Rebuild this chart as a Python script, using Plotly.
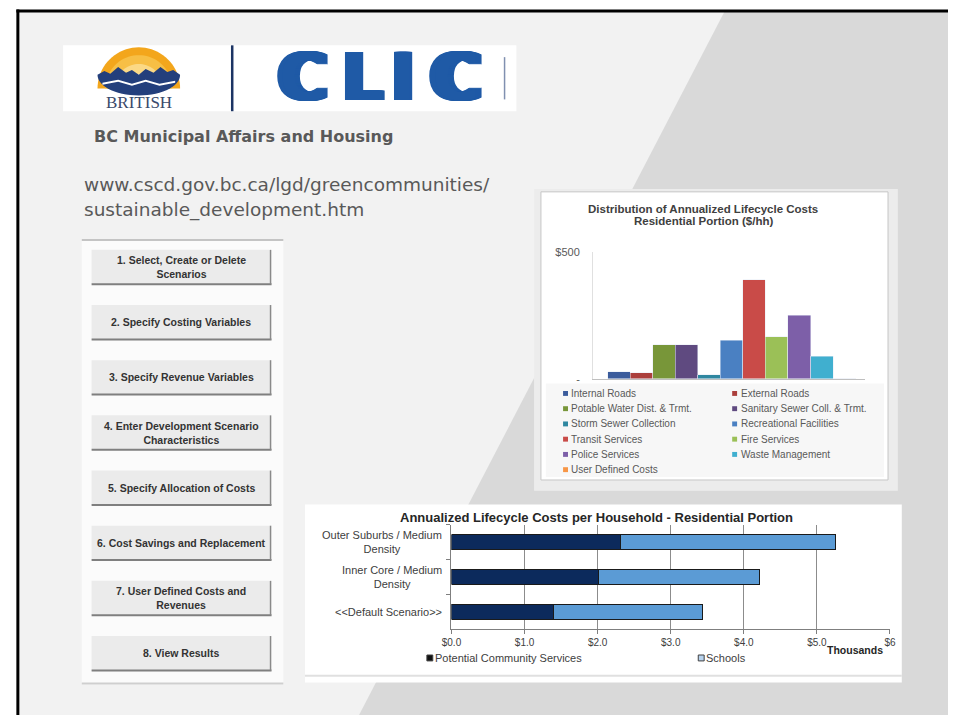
import math
import plotly.graph_objects as go

W, H = 954, 721

# distribution chart ($/hh), one bar per service
services = ["Internal Roads", "External Roads", "Potable Water Dist. & Trmt.",
            "Sanitary Sewer Coll. & Trmt.", "Storm Sewer Collection",
            "Recreational Facilities", "Transit Services", "Fire Services",
            "Police Services", "Waste Management", "User Defined Costs"]
service_costs = [28, 24, 134, 135, 16, 152, 390, 166, 250, 88, 0]
service_colors = ["#3b5c9c", "#ab3f3c", "#789639", "#5f4a80", "#2f87a0", "#4a80c2",
                  "#c94b48", "#9bc057", "#7d5fa8", "#40afcf", "#f79646"]
dist_ticks = [0, 500]
dist_ticklabels = ["-", "$500"]

# per household chart (thousands of $)
scenarios = ["Outer Suburbs / Medium Density", "Inner Core / Medium Density",
             "<<Default Scenario>>"]
scenario_labels = ["Outer Suburbs / Medium<br>Density", "Inner Core / Medium<br>Density",
                   "&lt;&lt;Default Scenario&gt;&gt;"]
community_services = [2.31, 2.01, 1.40]
schools = [2.95, 2.21, 2.04]
hh_series = ["Potential Community Services", "Schools"]
hh_colors = ["#0c2a5c", "#5b9bd5"]
hh_ticks = [0, 1, 2, 3, 4, 5, 6]
hh_ticklabels = ["$0.0", "$1.0", "$2.0", "$3.0", "$4.0", "$5.0", "$6"]

menu_buttons = ["1. Select, Create or Delete<br>Scenarios",
                "2. Specify Costing Variables",
                "3. Specify Revenue Variables",
                "4. Enter Development Scenario<br>Characteristics",
                "5. Specify Allocation of Costs",
                "6. Cost Savings and Replacement",
                "7. User Defined Costs and<br>Revenues",
                "8. View Results"]

ARIAL = "Liberation Sans"
GOTHIC = "DejaVu Sans"

shapes = []
annotations = []


def px(x):
    return x / W


def py(y):
    return 1 - y / H


def rect(x0, y0, x1, y1, fill, line=None, lw=0):
    shapes.append(dict(type="rect", xref="paper", yref="paper", layer="below",
                       x0=px(x0), x1=px(x1), y0=py(y1), y1=py(y0),
                       fillcolor=fill, line=dict(color=line or fill, width=lw)))


def seg(x0, y0, x1, y1, color, lw=1):
    shapes.append(dict(type="line", xref="paper", yref="paper", layer="below",
                       x0=px(x0), x1=px(x1), y0=py(y0), y1=py(y1),
                       line=dict(color=color, width=lw)))


def poly(pts, fill):
    d = "M " + " L ".join(f"{px(x):.5f},{py(y):.5f}" for x, y in pts) + " Z"
    shapes.append(dict(type="path", xref="paper", yref="paper", layer="below",
                       path=d, fillcolor=fill, line=dict(width=0)))


def text(x, y, s, size, color="#404040", family=ARIAL, xanchor="center",
         bold=False, **kw):
    annotations.append(dict(x=px(x), y=py(y), xref="paper", yref="paper", text=s,
                            showarrow=False, xanchor=xanchor, yanchor="middle",
                            font=dict(family=family, size=size, color=color,
                                      weight="bold" if bold else "normal"), **kw))


# slide background
rect(0, 0, W, H, "white")
rect(8, 5, W, H, "#f2f2f2")
poly([(727, 5), (W, 5), (W, H), (355, H)], "#d9d9d9")
seg(8, 3.5, 8, H, "black", 3)
seg(6.5, 5, W, 5, "black", 3)

# logo strip
rect(54, 40, 515, 107, "white")
cx, cy = 131, 84
for r, c in [(42, "#f3a61c"), (34, "#f7bf45"), (25, "#fbd985"), (15, "#fff3cf"), (7, "#ffffff")]:
    poly([(cx + r * math.cos(math.pi * k / 40), cy - r * math.sin(math.pi * k / 40))
          for k in range(41)], c)
ridge = [(89, 70), (96, 66), (102, 69), (110, 62), (118, 68), (124, 65), (131, 70),
         (138, 64), (146, 68), (153, 62), (160, 67), (166, 65), (173, 70)]
bowl = [(cx + 42 * math.cos(math.pi * k / 30), 70 + 21 * math.sin(math.pi * k / 30))
        for k in range(31)]
poly(ridge + bowl, "#233f7c")
poly([(94, 78), (110, 75), (124, 79), (138, 75), (152, 79), (168, 76),
      (168, 78), (152, 81), (138, 77), (124, 81), (110, 77), (94, 80)], "#ffffff")
text(131, 98, "BRITISH", 17, "#3a4a6b", family="Liberation Serif")
seg(226, 40, 226, 107, "#1c3464", 2.5)
blue = "#1f5aa6"
for ch, x, spread in zip("CLIC", [298, 359, 400, 454], [5, 3, 3, 6]):
    fat = ", ".join(f"{d}px 0 0 {blue}" for d in range(-spread, spread + 1) if d)
    annotations.append(dict(x=px(x), y=py(73), xref="paper", yref="paper", text=ch,
                            showarrow=False, xanchor="center", yanchor="middle",
                            font=dict(family=GOTHIC, size=65, color=blue, weight="bold",
                                      shadow=fat)))
seg(503, 52, 503, 95, "#8090b0", 1.5)

text(83, 133, "BC Municipal Affairs and Housing", 16, "#595959", family=GOTHIC,
     xanchor="left", bold=True)
text(73, 182, "www.cscd.gov.bc.ca/lgd/greencommunities/", 18.5, "#595959",
     family=GOTHIC, xanchor="left")
text(73, 207, "sustainable_development.htm", 18.5, "#595959", family=GOTHIC,
     xanchor="left")

# menu panel
rect(73, 237, 278, 690, "#fbfbfb")
seg(73, 238, 278, 238, "#c4c4c4", 2)
seg(73, 689, 278, 689, "#cfcfcf", 2)
for i, lab in enumerate(menu_buttons):
    y0 = 248 + i * 56.1
    rect(83, y0, 265, y0 + 35, "#ebebeb")
    seg(83, y0 + 35, 266, y0 + 35, "#7f7f7f", 2)
    seg(265, y0, 265, y0 + 35, "#8a8a8a", 1.5)
    text(174, y0 + 17.5, lab, 10.5, "#333333", bold=True)

# distribution chart frame
rect(533, 186, 903, 493, "#ececec")
rect(540, 189, 893, 482, "white", "#c6c6c6", 1)
rect(545, 384, 889, 479, "#f7f7f7")
text(705, 206, "Distribution of Annualized Lifecycle Costs", 11.5, "#404040", bold=True)
text(705, 219, "Residential Portion ($/hh)", 11.5, "#404040", bold=True)
for i, (name, col) in enumerate(zip(services, service_colors)):
    mx = 565 if i % 2 == 0 else 737
    my = 394 + (i // 2) * 15.5
    rect(mx - 2.5, my - 2.5, mx + 2.5, my + 2.5, col)
    text(mx + 4, my, name, 10, "#595959", xanchor="left")

# per household chart frame
rect(300, 507, 907, 688, "white")
seg(300, 681, 907, 681, "#e0e0e0", 2)
text(597, 520, "Annualized Lifecycle Costs per Household - Residential Portion",
     13, "#262626", bold=True)
text(859, 655, "Thousands", 10.5, "#262626", bold=True)
for name, col, mx in zip(hh_series, ["#111111", "#b8d3ee"], [427, 703]):
    rect(mx - 3, 660, mx + 3, 666, col, "#404040", 1)
    text(mx + 3, 663, name, 11, "#404040", xanchor="left")
for sc, lab in zip(scenarios, scenario_labels):
    annotations.append(dict(x=px(441), y=sc, xref="paper", yref="y2", text=lab,
                            showarrow=False, xanchor="right", yanchor="middle", align="center",
                            font=dict(family=ARIAL, size=11, color="#404040")))

fig = go.Figure()
for name, val, col in zip(services, service_costs, service_colors):
    fig.add_trace(go.Bar(x=[name], y=[val], name=name, marker_color=col, width=1.0,
                         xaxis="x", yaxis="y"))
fig.add_trace(go.Bar(y=scenarios, x=community_services, orientation="h", name=hh_series[0],
                     marker=dict(color=hh_colors[0], line=dict(color="#1a1a1a", width=1)),
                     width=0.43, xaxis="x2", yaxis="y2"))
fig.add_trace(go.Bar(y=scenarios, x=schools, orientation="h", name=hh_series[1],
                     marker=dict(color=hh_colors[1], line=dict(color="#1a1a1a", width=1)),
                     width=0.43, xaxis="x2", yaxis="y2"))

fig.update_layout(
    width=W, height=H, margin=dict(l=0, r=0, t=0, b=0),
    paper_bgcolor="white", plot_bgcolor="rgba(0,0,0,0)",
    barmode="stack", showlegend=False,
    shapes=shapes, annotations=annotations,
    xaxis=dict(domain=[px(593), px(870)], anchor="y", type="category",
               range=[-1.155, 10.937], showticklabels=False, showgrid=False,
               showline=True, linecolor="#bfbfbf", ticks="", zeroline=False),
    yaxis=dict(domain=[py(379), py(250)], anchor="x", range=[0, 501],
               tickvals=dist_ticks, ticktext=dist_ticklabels, showgrid=True,
               gridcolor="#d9d9d9", showline=True, linecolor="#e0e0e0", ticks="",
               zeroline=False, ticklabelstandoff=10,
               tickfont=dict(family=ARIAL, size=11, color="#595959")),
    xaxis2=dict(domain=[px(449), px(895)], anchor="y2", range=[0, 6],
                tickvals=hh_ticks, ticktext=hh_ticklabels, showgrid=True,
                gridcolor="#8c8c8c", showline=True, linecolor="#7f7f7f",
                ticks="outside", ticklen=4, tickcolor="#7f7f7f", zeroline=False,
                tickfont=dict(family=ARIAL, size=10, color="#404040")),
    yaxis2=dict(domain=[py(633.5), py(527.5)], anchor="x2", type="category",
                autorange="reversed", showticklabels=False, showgrid=False,
                showline=True, linecolor="#7f7f7f", ticks="outside",
                tickson="boundaries", ticklen=4, tickcolor="#7f7f7f"),
)

# the page body has a default margin and scrollbars; drop them so the slide fills the window
fig.write_html("out.html", config={"displayModeBar": False},
               post_script="document.documentElement.style.overflow='hidden';"
                           "document.body.style.margin='0';"
                           "document.body.style.overflow='hidden';window.scrollTo(0,0);")
